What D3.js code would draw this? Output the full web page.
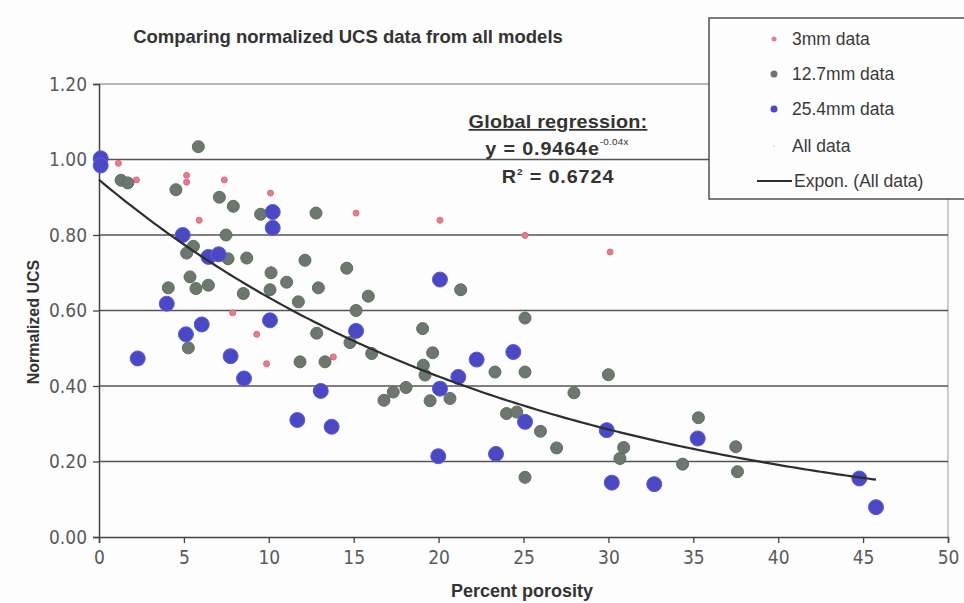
<!DOCTYPE html>
<html>
<head>
<meta charset="utf-8">
<script src="https://cdn.jsdelivr.net/npm/d3@7/dist/d3.min.js"></script>
<style>
  body { margin: 0; background: #fdfdfd; }
  svg { display: block; }
</style>
</head>
<body>
<svg id="chart" width="964" height="603"></svg>
<script>
// Normalized UCS vs. percent porosity, [porosity %, normalized UCS]
const data3mm = [
  [1.14, 0.99], [2.2, 0.946], [5.16, 0.958], [5.16, 0.94], [7.38, 0.946],
  [10.1, 0.911], [5.9, 0.839], [7.87, 0.594], [9.29, 0.537], [9.87, 0.459],
  [15.14, 0.858], [13.8, 0.477], [20.08, 0.839], [25.09, 0.799], [30.1, 0.755]
];
const data127mm = [
  [1.3, 0.945], [1.7, 0.938], [5.85, 1.034], [4.53, 0.92], [7.09, 0.90],
  [7.91, 0.876], [9.52, 0.855], [7.48, 0.80], [5.56, 0.77], [5.16, 0.752],
  [7.6, 0.737], [8.7, 0.739], [10.13, 0.70], [11.05, 0.675], [5.36, 0.689],
  [5.71, 0.658], [6.44, 0.667], [4.08, 0.66], [8.5, 0.645], [10.07, 0.655],
  [5.26, 0.501], [12.78, 0.858], [12.13, 0.733], [14.59, 0.712], [12.92, 0.66],
  [15.86, 0.638], [11.74, 0.623], [21.3, 0.655], [15.14, 0.60], [12.82, 0.54],
  [14.78, 0.515], [16.06, 0.486], [19.06, 0.552], [19.65, 0.488], [11.84, 0.464],
  [13.31, 0.464], [19.1, 0.455], [19.2, 0.429], [23.32, 0.437], [18.08, 0.396],
  [17.33, 0.384], [16.78, 0.362], [19.5, 0.361], [20.67, 0.367], [24.0, 0.327],
  [24.6, 0.331], [25.09, 0.58], [25.09, 0.437], [30.0, 0.43], [27.97, 0.382],
  [26.0, 0.28], [26.95, 0.236], [30.9, 0.237], [30.68, 0.208], [25.09, 0.158],
  [35.3, 0.316], [34.37, 0.193], [37.5, 0.239], [37.6, 0.173]
];
const data254mm = [
  [0.1, 1.003], [0.1, 0.984], [2.28, 0.473], [3.99, 0.618], [4.93, 0.80],
  [6.45, 0.742], [7.05, 0.749], [6.05, 0.563], [5.12, 0.537], [7.75, 0.479],
  [8.54, 0.42], [10.23, 0.861], [10.23, 0.819], [10.07, 0.574], [20.08, 0.682],
  [15.14, 0.546], [22.24, 0.47], [24.4, 0.49], [21.16, 0.424], [20.08, 0.393],
  [13.06, 0.387], [11.68, 0.31], [13.7, 0.292], [19.98, 0.214], [23.38, 0.22],
  [25.09, 0.305], [29.9, 0.283], [30.2, 0.144], [32.7, 0.14], [35.26, 0.261],
  [44.78, 0.155], [45.76, 0.079]
];
const allData = [...data3mm, ...data127mm, ...data254mm];

// Exponential fit of all data: y = a * e^(b x)
const fitA = 0.9464;
const fitB = -0.04;
const fitR2 = 0.6724;

const xTicks = [0, 5, 10, 15, 20, 25, 30, 35, 40, 45, 50];
const yTicks = [0, 0.2, 0.4, 0.6, 0.8, 1.0, 1.2];

const titleText = "Comparing normalized UCS data from all models";
const xTitle = "Percent porosity";
const yTitle = "Normalized UCS";
const legendLabels = ["3mm data", "12.7mm data", "25.4mm data", "All data", "Expon. (All data)"];

const svg = d3.select("#chart");
const x = d3.scaleLinear().domain([0, 50]).range([99, 948]);
const y = d3.scaleLinear().domain([0, 1.2]).range([537, 84]);

const narrow = "'Liberation Sans Narrow', 'Arial Narrow', 'DejaVu Sans Condensed', sans-serif";
const sans = "'Liberation Sans', Arial, Helvetica, sans-serif";

// background
svg.append("rect").attr("width", 964).attr("height", 603).attr("fill", "#fdfdfd");

// title
svg.append("text")
  .attr("x", 348).attr("y", 43)
  .attr("text-anchor", "middle")
  .attr("font-family", sans).attr("font-weight", "bold").attr("font-size", 18.5)
  .attr("fill", "#333")
  .text(titleText);

// plot frame (top and right edges)
svg.append("line")
  .attr("x1", x(0)).attr("x2", x(50)).attr("y1", y(1.2)).attr("y2", y(1.2))
  .attr("stroke", "#777").attr("stroke-width", 1.2);
svg.append("line")
  .attr("x1", x(50)).attr("x2", x(50)).attr("y1", y(1.2)).attr("y2", y(0))
  .attr("stroke", "#aaa").attr("stroke-width", 1.2);

// horizontal gridlines
svg.append("g")
  .selectAll("line")
  .data(yTicks.filter(t => t > 0 && t < 1.2))
  .join("line")
  .attr("x1", x(0)).attr("x2", x(50))
  .attr("y1", d => y(d)).attr("y2", d => y(d))
  .attr("stroke", "#555").attr("stroke-width", 1.4);

// y axis
const yAxis = svg.append("g")
  .attr("transform", `translate(${x(0)},0)`)
  .call(d3.axisLeft(y).tickValues(yTicks).tickFormat(d3.format(".2f")).tickSize(6).tickPadding(6));
yAxis.select(".domain").attr("stroke", "#444").attr("stroke-width", 1.5);
yAxis.selectAll(".tick line").attr("stroke", "#444").attr("stroke-width", 1.3);
yAxis.selectAll(".tick text")
  .attr("font-family", narrow).attr("font-size", 19).attr("fill", "#5a5a5a");

// x axis
const xAxis = svg.append("g")
  .attr("transform", `translate(0,${y(0)})`)
  .call(d3.axisBottom(x).tickValues(xTicks).tickFormat(d3.format("d")).tickSize(6).tickPadding(8));
xAxis.select(".domain").attr("stroke", "#444").attr("stroke-width", 1.5);
xAxis.selectAll(".tick line").attr("stroke", "#444").attr("stroke-width", 1.3);
xAxis.selectAll(".tick text")
  .attr("font-family", narrow).attr("font-size", 19).attr("fill", "#5a5a5a");

// axis titles
svg.append("text")
  .attr("x", 522).attr("y", 597)
  .attr("text-anchor", "middle")
  .attr("font-family", sans).attr("font-weight", "bold").attr("font-size", 18)
  .attr("fill", "#333")
  .text(xTitle);
svg.append("text")
  .attr("transform", "translate(39,322) rotate(-90)")
  .attr("text-anchor", "middle")
  .attr("font-family", sans).attr("font-weight", "bold").attr("font-size", 16)
  .attr("fill", "#333")
  .text(yTitle);

// series styles
const seriesStyle = [
  { data: data3mm,   r: 3,   fill: "#e67d8e", stroke: "#d86a7c" },
  { data: data127mm, r: 6,   fill: "#6c786d", stroke: "#5f6b60" },
  { data: data254mm, r: 7.5, fill: "#4b48c4", stroke: "#5b5bd6" },
  { data: allData,   r: 1.2, fill: "#eef2f2", stroke: "none" }
];

const pts = svg.append("g");
// the "All data" markers sit beneath the sized series markers
pts.append("g").selectAll("circle")
  .data(allData).join("circle")
  .attr("cx", d => x(d[0])).attr("cy", d => y(d[1]))
  .attr("r", seriesStyle[3].r).attr("fill", seriesStyle[3].fill);
seriesStyle.slice(0, 3).forEach(s => {
  pts.append("g").selectAll("circle")
    .data(s.data).join("circle")
    .attr("cx", d => x(d[0])).attr("cy", d => y(d[1]))
    .attr("r", s.r)
    .attr("fill", s.fill)
    .attr("stroke", s.stroke).attr("stroke-width", 1);
});

// exponential trendline
const xMax = d3.max(allData, d => d[0]);
const trend = d3.range(0, xMax + 0.001, 0.25).map(v => [v, fitA * Math.exp(fitB * v)]);
trend.push([xMax, fitA * Math.exp(fitB * xMax)]);
svg.append("path")
  .datum(trend)
  .attr("fill", "none")
  .attr("stroke", "#2e2e2e").attr("stroke-width", 2.2)
  .attr("d", d3.line().x(d => x(d[0])).y(d => y(d[1])));

// regression annotation, widened slightly
const ann = svg.append("g")
  .attr("transform", "translate(558,0) scale(1.1,1)")
  .attr("font-family", sans).attr("font-weight", "bold").attr("fill", "#333")
  .attr("text-anchor", "middle");
ann.append("text")
  .attr("x", 0).attr("y", 128).attr("font-size", 18).attr("letter-spacing", 0.2)
  .attr("text-decoration", "underline")
  .text("Global regression:");
const eq = ann.append("text").attr("x", -1).attr("y", 155)
  .attr("font-size", 18).attr("letter-spacing", 0.8);
eq.append("tspan").text(`y = ${fitA}e`);
eq.append("tspan").attr("dy", -10).attr("font-size", 9).attr("font-weight", "normal")
  .attr("letter-spacing", 0.2)
  .text(`${fitB}x`);
const r2 = ann.append("text").attr("x", 0).attr("y", 183)
  .attr("font-size", 18).attr("letter-spacing", 0.8);
r2.append("tspan").text("R");
r2.append("tspan").attr("dy", -8).attr("font-size", 9).text("2");
r2.append("tspan").attr("dy", 8).text(` = ${fitR2}`);

// legend
const lg = svg.append("g");
lg.append("rect")
  .attr("x", 709).attr("y", 18).attr("width", 270).attr("height", 181)
  .attr("fill", "#fdfdfd").attr("stroke", "#444").attr("stroke-width", 1.4);
const rowY = [39, 74, 109, 146, 181];
const legendMarkers = [
  { r: 2.5, fill: "#e67d8e" },
  { r: 3.5, fill: "#6c786d" },
  { r: 3.5, fill: "#4b48c4" },
  { r: 1.2, fill: "#e4ecee" }
];
legendLabels.forEach((label, i) => {
  if (i < 4) {
    lg.append("circle")
      .attr("cx", 774).attr("cy", rowY[i])
      .attr("r", legendMarkers[i].r).attr("fill", legendMarkers[i].fill);
  } else {
    lg.append("line")
      .attr("x1", 757).attr("x2", 792).attr("y1", rowY[i]).attr("y2", rowY[i])
      .attr("stroke", "#2e2e2e").attr("stroke-width", 2.2);
  }
  lg.append("text")
    .attr("x", i < 4 ? 792 : 794).attr("y", rowY[i] + 6)
    .attr("font-family", sans).attr("font-size", 17.5).attr("fill", "#3a3a3a")
    .text(label);
});
</script>
</body>
</html>
